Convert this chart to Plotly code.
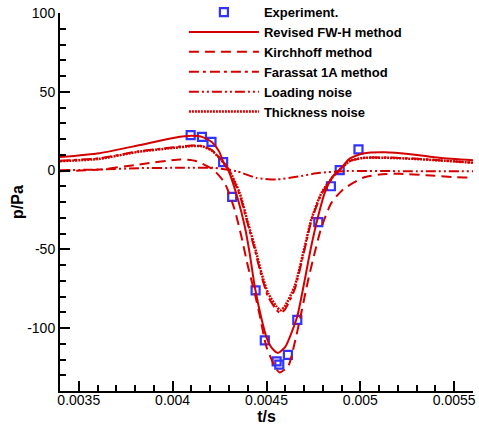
import plotly.graph_objects as go

# ---------------- data (t in seconds, p in Pa) ----------------
exp_t = [0.004096, 0.004156, 0.004207, 0.004269, 0.004317, 0.004442, 0.004491,
         0.004554, 0.004568, 0.004614, 0.004664, 0.004776, 0.004843, 0.004890, 0.004990]
exp_p = [22.4, 21.4, 18.2, 5.3, -16.7, -76.1, -107.9, -121.2, -123.3, -117.0,
         -94.9, -32.8, -10.0, 0.2, 13.4]

fwh_t = [0.00340, 0.00361, 0.00382, 0.00401, 0.00410, 0.00416, 0.00421, 0.00425,
         0.004268, 0.004295, 0.004348, 0.004384, 0.004410, 0.004437, 0.004473,
         0.004500, 0.004530, 0.004561, 0.004600, 0.004630, 0.004664, 0.004704,
         0.004735, 0.004775, 0.004810, 0.004854, 0.004899, 0.004943, 0.005014,
         0.005130, 0.005280, 0.005420, 0.005600]
fwh_p = [8.5, 11.0, 16.0, 20.8, 22.0, 21.2, 18.0, 11.5,
         5.9, 0.6, -18.4, -35.4, -52.3, -73.5, -94.0,
         -106.0, -113.0, -115.9, -112.0, -104.0, -92.6, -69.3,
         -50.0, -29.1, -14.2, -3.6, 1.7, 7.5, 10.8,
         11.6, 10.2, 8.1, 6.5]

kir_t = [0.00340, 0.00361, 0.00382, 0.00404, 0.004126, 0.004215, 0.004277,
         0.004330, 0.004366, 0.004401, 0.004437, 0.004464, 0.004499, 0.004544,
         0.004570, 0.004615, 0.004650, 0.004686, 0.004721, 0.004757, 0.004793,
         0.004846, 0.004908, 0.005014, 0.005103, 0.005210, 0.005352, 0.005512, 0.005600]
kir_p = [-0.4, 0.6, 3.8, 7.0, 5.9, 0.6, -7.8,
         -24.8, -41.8, -60.8, -77.8, -92.0, -111.7, -124.4,
         -128.2, -124.4, -109.5, -90.0, -70.0, -52.0, -36.0,
         -20.5, -12.0, -4.6, -2.5, -2.1, -3.0, -4.3, -4.5]

f1a_t = [0.00340, 0.00361, 0.00382, 0.00401, 0.00410, 0.00416, 0.00421, 0.00426,
         0.00430, 0.004357, 0.004401, 0.004437, 0.004473, 0.004508, 0.004553,
         0.004574, 0.004597, 0.004650, 0.004704, 0.004739, 0.004793, 0.004864,
         0.004943, 0.005014, 0.005130, 0.005280, 0.005420, 0.005600]
f1a_p = [6.2, 7.8, 12.2, 14.8, 15.8, 15.5, 12.8, 6.5,
         0.0, -15.5, -34.5, -50.0, -67.0, -80.0, -88.5,
         -90.5, -88.5, -75.5, -49.5, -32.0, -15.0, -2.8,
         5.9, 8.0, 8.3, 7.6, 6.5, 5.0]

load_t = [0.00340, 0.00361, 0.00382, 0.00404, 0.004215, 0.00434, 0.004446,
          0.004553, 0.004659, 0.004784, 0.004926, 0.005200, 0.005600]
load_p = [0.2, 0.6, 1.5, 1.7, 1.7, -0.4, -4.7,
          -5.7, -4.0, -1.5, -0.4, -0.4, -0.4]

thk_t = [0.00340, 0.00361, 0.00382, 0.00401, 0.00410, 0.00416, 0.00421, 0.00426,
         0.00430, 0.004357, 0.004401, 0.004437, 0.004473, 0.004508, 0.004553,
         0.004574, 0.004597, 0.004650, 0.004704, 0.004739, 0.004793, 0.004864,
         0.004943, 0.005014, 0.005130, 0.005280, 0.005420, 0.005600]
thk_p = [5.9, 7.4, 11.9, 14.4, 15.5, 15.3, 12.5, 6.5,
         0.5, -14.2, -33.2, -48.1, -65.0, -77.8, -86.3,
         -88.8, -86.3, -73.5, -48.1, -31.0, -14.2, -2.5,
         5.9, 8.0, 8.1, 7.4, 6.4, 4.9]

x_ticks = [0.0035, 0.004, 0.0045, 0.005, 0.0055]
x_tick_text = ["0.0035", "0.004", "0.0045", "0.005", "0.0055"]
y_ticks = [-100, -50, 0, 50, 100]
y_tick_text = ["-100", "-50", "0", "50", "100"]

RED = "#d40000"
FONT = "Arial, 'Liberation Sans', sans-serif"

fig = go.Figure()
fig.add_trace(go.Scatter(
    x=exp_t, y=exp_p, mode="markers", name="<b>Experiment.</b>",
    marker=dict(symbol="square-open", size=8, color="#3333ff",
                line=dict(width=2.2, color="#3333ff"))))
line_kw = dict(mode="lines", line_shape="spline")
fig.add_trace(go.Scatter(x=fwh_t, y=fwh_p, name="<b>Revised FW-H method</b>",
                         line=dict(color=RED, width=2, smoothing=0.6), **line_kw))
fig.add_trace(go.Scatter(x=kir_t, y=kir_p, name="<b>Kirchhoff method</b>",
                         line=dict(color=RED, width=2, dash="10px,6px", smoothing=0.6), **line_kw))
fig.add_trace(go.Scatter(x=f1a_t, y=f1a_p, name="<b>Farassat 1A method</b>",
                         line=dict(color=RED, width=2, dash="10px,4px,3px,4px", smoothing=0.6), **line_kw))
fig.add_trace(go.Scatter(x=load_t, y=load_p, name="<b>Loading noise</b>",
                         line=dict(color=RED, width=2, dash="10px,3px,2px,3px,2px,3px", smoothing=0.6), **line_kw))
fig.add_trace(go.Scatter(x=thk_t, y=thk_p, name="<b>Thickness noise</b>",
                         line=dict(color=RED, width=2.5, dash="2px,1px", smoothing=0.6), **line_kw))

axis_common = dict(showline=True, linecolor="black", linewidth=2, showgrid=False,
                   zeroline=False, ticks="inside", tickcolor="black", tickwidth=2,
                   ticklen=10, tickfont=dict(family=FONT, size=14, color="black"),
                   mirror=False, automargin=True)
fig.update_xaxes(range=[0.0034, 0.0056], tickvals=x_ticks, ticktext=x_tick_text,
                 ticklabelstandoff=-5,
                 title=dict(text="<b>t/s</b>", font=dict(family=FONT, size=16, color="black"),
                            standoff=0),
                 minor=dict(ticks="inside", dtick=0.0001, ticklen=6, tickwidth=1.5, tickcolor="black"),
                 **axis_common)
fig.update_yaxes(range=[-140, 100], tickvals=y_ticks, ticktext=y_tick_text,
                 title=dict(text="<b>p/Pa</b>", font=dict(family=FONT, size=16, color="black"),
                            standoff=0),
                 minor=dict(ticks="inside", dtick=10, ticklen=6, tickwidth=1.5, tickcolor="black"),
                 **axis_common)

fig.update_layout(
    width=479, height=425,
    margin=dict(l=60, r=6, t=13, b=34, autoexpand=False),
    paper_bgcolor="white", plot_bgcolor="white",
    font=dict(family=FONT, color="black"),
    legend=dict(x=0.30, y=1.042, xanchor="left", yanchor="top",
                bgcolor="rgba(0,0,0,0)", font=dict(family=FONT, size=13, color="black"),
                itemwidth=70, tracegroupgap=0),
    showlegend=True,
)

fig.write_html("out.html")
